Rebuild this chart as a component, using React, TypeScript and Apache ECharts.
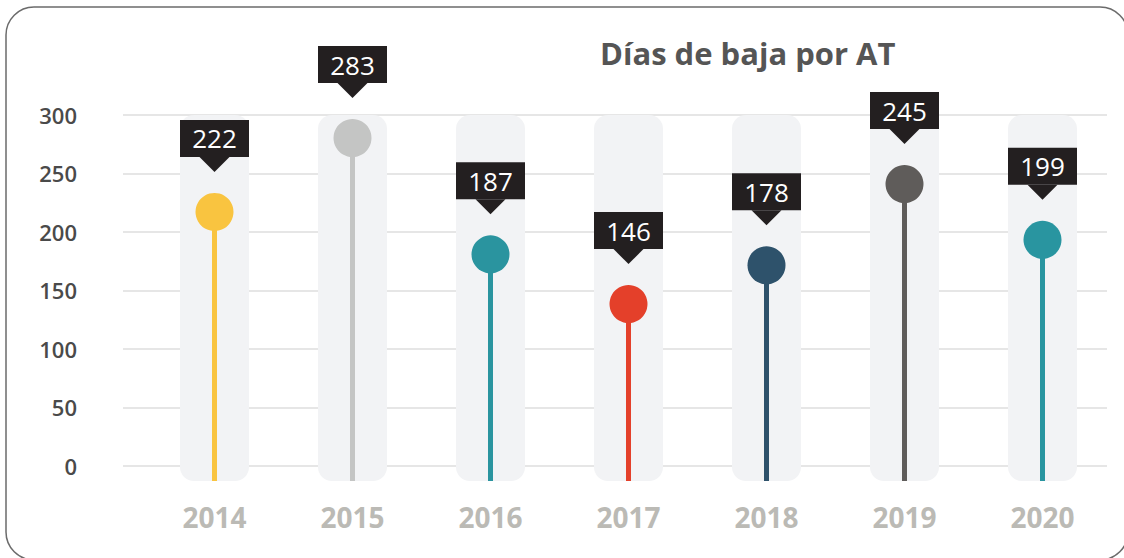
import React, { useEffect, useRef } from "react";
import * as echarts from "echarts";

const years = ["2014", "2015", "2016", "2017", "2018", "2019", "2020"];
const days = [222, 283, 187, 146, 178, 245, 199];
const colors = ["#f9c440", "#c4c5c4", "#2a949f", "#e4402a", "#2e526b", "#5f5c5a", "#2995a0"];
const yTicks = { min: 0, max: 300, interval: 50 };
const trackMax = 302;
const title = "Días de baja por AT";

export default function App() {
  const ref = useRef<HTMLDivElement>(null);
  useEffect(() => {
    if (!ref.current) return;
    const chart = echarts.init(ref.current, null, { renderer: "svg" });
    const font = "'Open Sans', 'Noto Sans', sans-serif";
    chart.setOption({
      animation: false,
      backgroundColor: "#ffffff",
      textStyle: { fontFamily: font },
      title: {
        text: title,
        left: 600,
        top: 37,
        padding: 0,
        textStyle: { fontSize: 31, fontWeight: "bold", color: "#555555", fontFamily: font },
      },
      graphic: [
        {
          type: "rect",
          shape: { x: 6, y: 7, width: 1122, height: 553, r: 28 },
          style: { fill: "none", stroke: "#6b6b6b", lineWidth: 1.5 },
          silent: true,
          z: -1,
        },
      ],
      grid: [
        { left: 145.5, right: 12.5, top: 115, bottom: 77 },
        { left: 123, right: 17, top: 115, bottom: 92.3 },
      ],
      xAxis: [
        {
          gridIndex: 0,
          type: "category",
          data: years,
          axisLine: { show: false },
          axisTick: { show: false },
          axisLabel: {
            margin: 22,
            fontSize: 28,
            fontWeight: "bold",
            color: "#bbbab5",
            fontFamily: font,
          },
        },
        { gridIndex: 0, type: "category", data: years, show: false },
        { gridIndex: 1, type: "value", show: false, min: 0, max: 1 },
      ],
      yAxis: [
        { gridIndex: 0, type: "value", min: 0, max: trackMax, show: false },
        {
          gridIndex: 1,
          type: "value",
          min: yTicks.min,
          max: yTicks.max,
          interval: yTicks.interval,
          axisLine: { show: false },
          axisTick: { show: false },
          axisLabel: {
            margin: 46,
            fontSize: 22,
            fontWeight: 600,
            color: "#4a4a4a",
            fontFamily: font,
          },
          splitLine: { lineStyle: { color: "#e6e6e6", width: 2 } },
        },
      ],
      series: [
        {
          type: "bar",
          xAxisIndex: 1,
          yAxisIndex: 0,
          data: years.map(() => trackMax),
          barWidth: 69,
          itemStyle: { color: "#f2f3f5", borderRadius: 14 },
          silent: true,
          z: 1,
        },
        {
          type: "bar",
          xAxisIndex: 0,
          yAxisIndex: 0,
          data: days.map((v, i) => ({ value: v, itemStyle: { color: colors[i] } })),
          barWidth: 5,
          z: 2,
        },
        {
          type: "scatter",
          xAxisIndex: 0,
          yAxisIndex: 0,
          data: days.map((v, i) => ({ value: v, itemStyle: { color: colors[i], opacity: 1 } })),
          symbolSize: 38,
          itemStyle: { opacity: 1 },
          z: 3,
          label: {
            show: true,
            position: "inside",
            offset: [0, -73.5],
            formatter: (p: any) => String(p.value),
            backgroundColor: "#231f20",
            color: "#ffffff",
            fontSize: 26,
            fontFamily: font,
            width: 69,
            height: 37,
            lineHeight: 37,
            align: "center",
            verticalAlign: "middle",
            padding: 0,
          },
        },
        {
          type: "scatter",
          xAxisIndex: 0,
          yAxisIndex: 0,
          data: days,
          symbol: "path://M0,0L30,0L15,15Z",
          symbolSize: [30, 15],
          symbolOffset: [0, -47.5],
          itemStyle: { color: "#231f20", opacity: 1 },
          silent: true,
          z: 4,
        },
      ],
    });
    return () => chart.dispose();
  }, []);
  return (
    <div
      ref={ref}
      style={{ position: "fixed", left: 0, top: 0, width: 1124, height: 558 }}
    />
  );
}
